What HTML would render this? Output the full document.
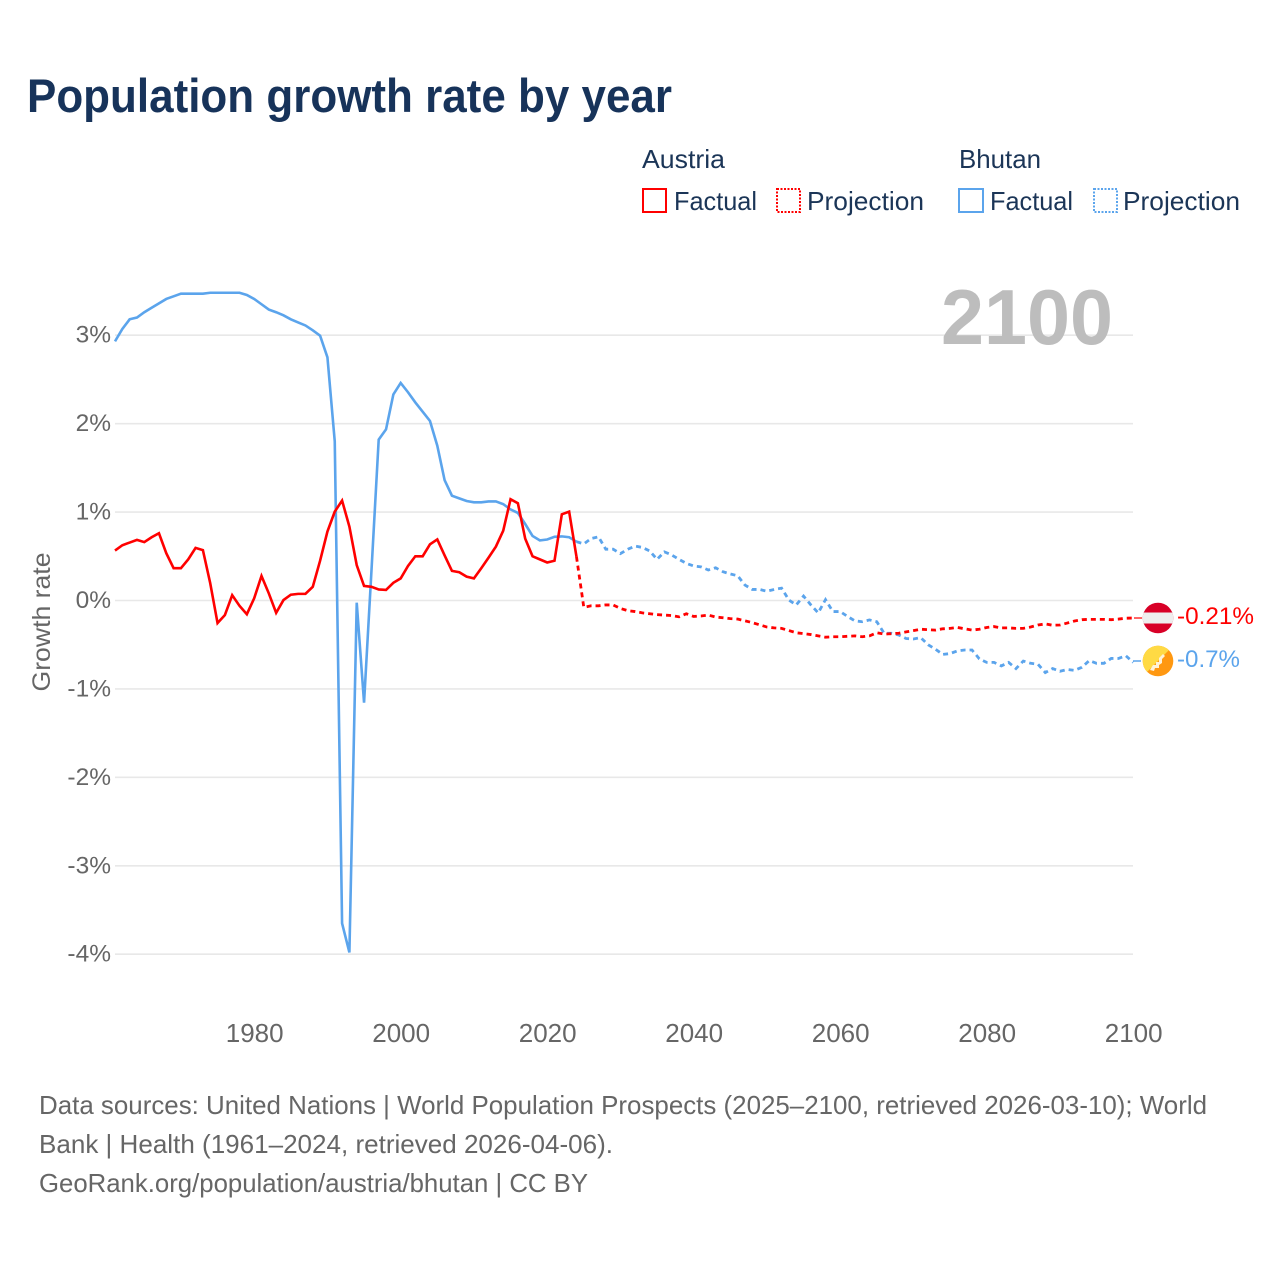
<!DOCTYPE html>
<html lang="en">
<head>
<meta charset="utf-8">
<title>Population growth rate by year</title>
<style>
html,body{margin:0;padding:0;background:#fff;width:1280px;height:1280px;overflow:hidden}
svg{display:block}
text{font-family:"Liberation Sans",sans-serif}
</style>
</head>
<body>
<svg id="chart" width="1280" height="1280" viewBox="0 0 1280 1280" xmlns="http://www.w3.org/2000/svg">
  <rect width="1280" height="1280" fill="#fff"/>
  <text x="27" y="112" font-size="47" font-weight="700" fill="#17335a" textLength="645" lengthAdjust="spacingAndGlyphs">Population growth rate by year</text>

  <g font-size="26" fill="#1b3557">
    <text x="642" y="168" textLength="83" lengthAdjust="spacingAndGlyphs">Austria</text>
    <rect x="643" y="189" width="23" height="23" fill="none" stroke="#ff0000" stroke-width="2"/>
    <text x="674" y="210" textLength="83" lengthAdjust="spacingAndGlyphs">Factual</text>
    <rect x="777" y="189" width="23" height="23" fill="none" stroke="#ff0000" stroke-width="2" stroke-dasharray="2 1.5"/>
    <text x="807" y="210" textLength="117" lengthAdjust="spacingAndGlyphs">Projection</text>
    <text x="959" y="168" textLength="82" lengthAdjust="spacingAndGlyphs">Bhutan</text>
    <rect x="959" y="189" width="24" height="23" fill="none" stroke="#5ba4ec" stroke-width="2"/>
    <text x="990" y="210" textLength="83" lengthAdjust="spacingAndGlyphs">Factual</text>
    <rect x="1094" y="189" width="23" height="23" fill="none" stroke="#5ba4ec" stroke-width="2" stroke-dasharray="2 1.5"/>
    <text x="1123" y="210" textLength="117" lengthAdjust="spacingAndGlyphs">Projection</text>
  </g>

  <g id="grid"></g>
  <g id="y-ticks"></g>
  <g id="x-ticks"></g>
  <text transform="translate(50,622) rotate(-90)" text-anchor="middle" font-size="25" fill="#666" textLength="139" lengthAdjust="spacingAndGlyphs">Growth rate</text>
  <text x="941" y="344" font-size="78" font-weight="700" fill="#bdbdbd" textLength="172" lengthAdjust="spacingAndGlyphs">2100</text>

  <g id="series"></g>

  <g id="austria-end"></g>
  <g id="bhutan-end"></g>

  <g font-size="26" fill="#666">
    <text x="39" y="1114" textLength="1168" lengthAdjust="spacingAndGlyphs">Data sources: United Nations | World Population Prospects (2025–2100, retrieved 2026-03-10); World</text>
    <text x="39" y="1153" textLength="574" lengthAdjust="spacingAndGlyphs">Bank | Health (1961–2024, retrieved 2026-04-06).</text>
    <text x="39" y="1192" textLength="549" lengthAdjust="spacingAndGlyphs">GeoRank.org/population/austria/bhutan | CC BY</text>
  </g>
</svg>
<script>
const firstFactualYear = 1961;
const firstProjectionYear = 2025;
const xTickYears = [1980, 2000, 2020, 2040, 2060, 2080, 2100];
const yTickValues = [3, 2, 1, 0, -1, -2, -3, -4];
const yTickLabels = ['3%', '2%', '1%', '0%', '-1%', '-2%', '-3%', '-4%'];

const austriaFactual = [
  0.565,0.625,0.655,0.685,0.66,0.715,0.76,0.535,0.365,0.365,
  0.465,0.595,0.57,0.195,-0.255,-0.165,0.06,-0.06,-0.155,0.025,
  0.277,0.08,-0.14,0.005,0.065,0.075,0.075,0.155,0.45,0.78,
  1.005,1.13,0.835,0.40,0.165,0.155,0.125,0.12,0.20,0.25,
  0.39,0.50,0.50,0.635,0.69,0.51,0.335,0.32,0.27,0.25,
  0.365,0.485,0.61,0.79,1.145,1.10,0.70,0.50,0.465,0.43,
  0.45,0.975,1.005,0.495
];
const austriaProjection = [
  -0.077,-0.06,-0.06,-0.05,-0.05,-0.09,-0.115,-0.125,-0.14,-0.15,
  -0.16,-0.165,-0.17,-0.185,-0.15,-0.18,-0.175,-0.165,-0.187,-0.195,
  -0.205,-0.21,-0.23,-0.25,-0.275,-0.30,-0.31,-0.315,-0.34,-0.365,
  -0.375,-0.385,-0.40,-0.415,-0.41,-0.41,-0.405,-0.40,-0.41,-0.40,
  -0.365,-0.38,-0.375,-0.37,-0.355,-0.34,-0.325,-0.33,-0.335,-0.32,
  -0.315,-0.305,-0.32,-0.335,-0.325,-0.305,-0.295,-0.31,-0.31,-0.315,
  -0.315,-0.30,-0.277,-0.265,-0.28,-0.277,-0.255,-0.232,-0.217,-0.213,
  -0.213,-0.213,-0.217,-0.21,-0.2,-0.198
];
const bhutanFactual = [
  2.93,3.07,3.18,3.20,3.26,3.31,3.36,3.41,3.44,3.47,
  3.47,3.47,3.47,3.48,3.48,3.48,3.48,3.48,3.455,3.41,
  3.35,3.29,3.26,3.225,3.18,3.145,3.11,3.055,2.995,2.75,
  1.80,-3.65,-3.98,-0.025,-1.155,0.32,1.82,1.935,2.33,2.46,
  2.355,2.24,2.135,2.03,1.75,1.36,1.185,1.155,1.125,1.11,
  1.11,1.12,1.12,1.09,1.03,0.99,0.865,0.73,0.68,0.69,
  0.72,0.725,0.715,0.665
];
const bhutanProjection = [
  0.64,0.70,0.72,0.58,0.58,0.53,0.58,0.615,0.60,0.56,
  0.465,0.55,0.515,0.465,0.42,0.39,0.38,0.345,0.37,0.325,
  0.30,0.28,0.175,0.125,0.125,0.105,0.125,0.14,0.005,-0.05,
  0.05,-0.05,-0.14,0.01,-0.125,-0.125,-0.18,-0.23,-0.24,-0.22,
  -0.24,-0.37,-0.37,-0.39,-0.43,-0.435,-0.42,-0.50,-0.55,-0.61,
  -0.60,-0.57,-0.56,-0.56,-0.66,-0.70,-0.70,-0.74,-0.70,-0.77,
  -0.685,-0.71,-0.72,-0.815,-0.77,-0.80,-0.78,-0.79,-0.755,-0.68,
  -0.71,-0.71,-0.655,-0.655,-0.625,-0.70
];
const endLabels = ['-0.21%', '-0.7%'];

const NS = 'http://www.w3.org/2000/svg';
const RED = '#ff0000';
const BLUE = '#5ba4ec';
function xScale(year){ return 115 + (year - 1961) * 7.325; }
function yScale(value){ return 600.5 - value * 88.43; }
function make(tag, attrs, parent){
  const el = document.createElementNS(NS, tag);
  for (const k in attrs) el.setAttribute(k, attrs[k]);
  parent.appendChild(el);
  return el;
}
function linePath(startYear, values, prevYear, prevValue){
  let d = '';
  if (prevYear !== undefined) d = 'M' + xScale(prevYear).toFixed(2) + ' ' + yScale(prevValue).toFixed(2);
  values.forEach(function(v, i){
    d += (d ? 'L' : 'M') + xScale(startYear + i).toFixed(2) + ' ' + yScale(v).toFixed(2);
  });
  return d;
}

const gridG = document.getElementById('grid');
const yG = document.getElementById('y-ticks');
yTickValues.forEach(function(v, i){
  const ln = make('line', {x1:115, x2:1133, y1:yScale(v), y2:yScale(v), stroke:'#e8e8e8', 'stroke-width':1.6}, gridG);
  
  
  const t = make('text', {x:111, y:yScale(v)+7.5, 'text-anchor':'end', 'font-size':24.5, fill:'#666'}, yG);
  t.textContent = yTickLabels[i];
  
  
});

const xG = document.getElementById('x-ticks');
xTickYears.forEach(function(year){
  const t = make('text', {x:xScale(year)+0.5, y:1042, 'text-anchor':'middle', 'font-size':26, fill:'#666'}, xG);
  t.textContent = String(year);
  
  
});

const sG = document.getElementById('series');
const lastFactualYear = firstProjectionYear - 1;
const bhutanF = make('path', {d:linePath(firstFactualYear, bhutanFactual), fill:'none', stroke:BLUE, 'stroke-width':2.6, 'stroke-linejoin':'miter'}, sG);


const bhutanP = make('path', {d:linePath(firstProjectionYear, bhutanProjection, lastFactualYear, bhutanFactual[bhutanFactual.length-1]), fill:'none', stroke:BLUE, 'stroke-width':2.8, 'stroke-dasharray':'5 4'}, sG);


const austriaF = make('path', {d:linePath(firstFactualYear, austriaFactual), fill:'none', stroke:RED, 'stroke-width':2.6, 'stroke-linejoin':'miter'}, sG);


const austriaP = make('path', {d:linePath(firstProjectionYear, austriaProjection, lastFactualYear, austriaFactual[austriaFactual.length-1]), fill:'none', stroke:RED, 'stroke-width':2.8, 'stroke-dasharray':'5 4'}, sG);



// End-of-line flags and value labels
const aEnd = document.getElementById('austria-end');
const aY = yScale(austriaProjection[austriaProjection.length-1]);
const aLead = make('line', {x1:1134, x2:1142, y1:aY, y2:aY, stroke:RED, 'stroke-width':1.5, opacity:0.8}, aEnd);


const aClip = make('clipPath', {id:'aClip'}, aEnd);
make('circle', {cx:1158, cy:aY, r:15.3}, aClip);
const aFlag = make('g', {'clip-path':'url(#aClip)'}, aEnd);


make('rect', {x:1142, y:aY-16, width:32, height:32, fill:'#d80027'}, aFlag);
make('rect', {x:1142, y:aY-5.5, width:32, height:11, fill:'#eeeeee'}, aFlag);
const aLabel = make('text', {x:1177, y:aY+6, 'font-size':24.5, fill:RED, textLength:77, lengthAdjust:'spacingAndGlyphs'}, aEnd);
aLabel.textContent = endLabels[0];



const bEnd = document.getElementById('bhutan-end');
const bY = yScale(bhutanProjection[bhutanProjection.length-1]) - 1.4;
const bLead = make('line', {x1:1133, x2:1141, y1:bY, y2:bY, stroke:BLUE, 'stroke-width':1.5}, bEnd);


const bClip = make('clipPath', {id:'bClip'}, bEnd);
make('circle', {cx:1158, cy:bY, r:15.3}, bClip);
const bFlag = make('g', {'clip-path':'url(#bClip)'}, bEnd);


const bInner = make('g', {transform:'translate(1158 ' + bY + ')'}, bFlag);
make('rect', {x:-16, y:-16, width:32, height:32, fill:'#ff9811'}, bInner);
make('path', {d:'M-16 16 L16 -16 L-16 -16 Z', fill:'#ffda44'}, bInner);
make('path', {d:'M-8 9 L-5 4 L-2 4 L-2 1 L1 1 L1 -3 L5 -7 L7 -5 L4 -2 L4 2 L1 4 L1 7 L-3 7 L-4 10 Z', fill:'#fff2d8'}, bInner);
const bLabel = make('text', {x:1177, y:bY+6, 'font-size':24.5, fill:BLUE, textLength:63, lengthAdjust:'spacingAndGlyphs'}, bEnd);
bLabel.textContent = endLabels[1];


</script>
</body>
</html>
